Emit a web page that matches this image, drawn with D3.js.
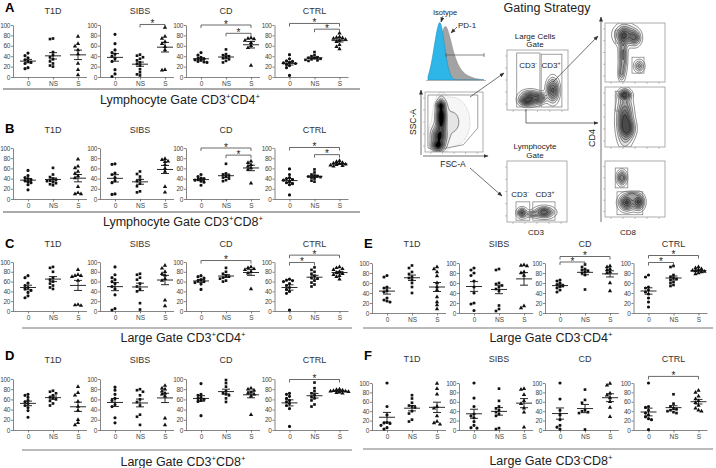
<!DOCTYPE html>
<html>
<head>
<meta charset="utf-8">
<script src="https://cdn.jsdelivr.net/npm/d3@7"></script>
<style>
body { margin: 0; background: #fff; }
svg { font-family: "Liberation Sans", Arial, sans-serif; }
</style>
</head>
<body>
<script>
// groups, stimulation conditions and tick labels
var groups = ["T1D", "SIBS", "CD", "CTRL"];
var stim = ["0", "NS", "S"];
var yTicks = [0, 20, 40, 60, 80, 100];

// % PD-1+ per group, per condition (0, NS, S)
var valuesA = [
    [[46, 41, 37, 33, 30, 28, 26, 18, 16], [74, 73, 48, 42, 38, 34, 30, 26, 22, 20], [78, 64, 59, 52, 44, 26, 14, 4]],
    [[82, 64, 52, 47, 44, 40, 35, 30, 14, 6, 1], [43, 41, 38, 35, 32, 28, 25, 22, 15, 9, 5, 3], [95, 78, 74, 68, 64, 58, 52, 14, 13]],
    [[47, 42, 38, 36, 35, 33, 32, 30, 29, 28], [53, 44, 42, 40, 38, 36, 34, 31, 28], [75, 74, 73, 70, 66, 60, 56, 22]],
    [[43, 35, 31, 30, 28, 27, 26, 24, 22, 18, 3], [48, 42, 40, 38, 37, 36, 35, 34, 33, 32, 31], [84, 77, 76, 75, 74, 72, 70, 68, 62, 58, 54]]
];
var valuesB = [
    [[56, 46, 42, 40, 38, 36, 34, 32, 28, 18], [61, 48, 43, 40, 38, 36, 35, 33, 31, 29, 27], [78, 64, 61, 54, 50, 45, 41, 24, 12, 10, 10]],
    [[69, 68, 51, 48, 42, 36, 32, 10, 9], [54, 49, 44, 38, 35, 30, 25, 15, 13], [79, 77, 74, 73, 67, 60, 54, 24, 13]],
    [[48, 44, 41, 40, 38, 37, 35, 33, 27], [69, 50, 48, 46, 44, 42, 40, 37, 35], [74, 71, 67, 64, 61, 58, 31]],
    [[59, 48, 42, 40, 38, 37, 35, 32, 30, 28, 8], [58, 52, 48, 46, 45, 44, 43, 42, 40, 36, 34], [75, 73, 71, 70, 69, 68, 67, 66, 65, 64]]
];
var valuesC = [
    [[72, 68, 57, 52, 48, 45, 42, 38, 31, 27], [90, 88, 80, 68, 64, 60, 56, 52, 48, 45], [84, 74, 72, 72, 70, 62, 13, 12, 11]],
    [[90, 74, 68, 64, 60, 56, 50, 45, 33, 5, 2], [76, 74, 68, 64, 56, 50, 44, 40, 16, 3], [93, 87, 80, 76, 73, 66, 62, 22, 10]],
    [[72, 70, 67, 64, 62, 60, 58, 55, 44], [88, 80, 76, 72, 70, 68, 66, 62, 60], [90, 88, 86, 84, 80, 77, 45]],
    [[65, 63, 62, 60, 56, 52, 48, 44, 40, 36, 2], [89, 84, 80, 76, 72, 68, 66, 62, 58, 54, 50], [90, 88, 86, 84, 80, 78, 76, 74, 72, 70, 65]]
];
var valuesD = [
    [[70, 68, 64, 58, 55, 52, 48, 44, 38, 25], [77, 75, 72, 68, 64, 62, 60, 57, 52, 48], [85, 73, 68, 56, 46, 38, 20, 14, 10]],
    [[84, 78, 70, 62, 58, 50, 46, 24, 14], [80, 78, 75, 68, 60, 55, 48, 30, 26, 10], [87, 82, 80, 76, 72, 70, 66, 23, 10]],
    [[91, 70, 68, 64, 62, 60, 58, 56, 28], [98, 92, 85, 76, 72, 70, 68, 62, 55], [82, 80, 78, 74, 72, 70, 66, 30]],
    [[72, 70, 66, 62, 58, 55, 52, 48, 42, 7], [93, 82, 76, 72, 68, 65, 62, 58, 50, 46], [80, 79, 78, 77, 76, 76, 75, 74, 73, 72]]
];
var valuesE = [
    [[75, 72, 52, 50, 45, 42, 30, 26, 24, 22], [95, 90, 82, 78, 72, 70, 66, 60, 52, 40], [92, 88, 82, 74, 60, 52, 46, 32, 22, 16, 8]],
    [[90, 86, 80, 75, 64, 52, 40, 20, 18, 5], [88, 86, 60, 58, 55, 52, 48, 44, 15, 8, 4], [96, 95, 94, 82, 80, 75, 14, 10]],
    [[66, 64, 60, 57, 55, 53, 50, 46, 42], [97, 92, 88, 86, 84, 82, 80, 76, 47], [94, 92, 88, 86, 82, 80, 60, 44]],
    [[76, 72, 52, 50, 46, 42, 38, 30, 22, 12], [94, 92, 76, 72, 70, 68, 66, 62, 60, 56, 54], [92, 90, 88, 86, 85, 84, 83, 82, 80, 78]]
];
var valuesF = [
    [[100, 50, 32, 16, 15, 14, 10, 5, 2], [74, 67, 58, 52, 50, 48, 40, 35, 22, 18], [99, 88, 76, 50, 46, 30, 18, 15, 12]],
    [[100, 68, 50, 34, 30, 26, 18, 10, 5, 4], [88, 62, 50, 46, 42, 38, 34, 30, 4, 2], [88, 86, 75, 62, 56, 46, 38, 6]],
    [[100, 66, 42, 32, 22, 10, 6, 2], [86, 64, 58, 42, 40, 38, 36, 1], [99, 95, 78, 74, 68, 60, 48, 28]],
    [[100, 50, 48, 42, 36, 32, 28, 24, 22, 1], [76, 56, 50, 46, 44, 42, 40, 38, 36], [84, 80, 72, 66, 62, 58, 52, 46, 42, 40]]
];

// significance brackets: [group index, from, to, bracket level]
var sigA = [[1, "NS", "S", 101], [2, "0", "S", 100], [2, "NS", "S", 84], [3, "0", "S", 103], [3, "NS", "S", 92]];
var sigB = [[2, "0", "S", 100], [2, "NS", "S", 86], [3, "0", "S", 101], [3, "NS", "S", 87]];
var sigC = [[2, "0", "S", 103], [3, "0", "S", 114], [3, "0", "NS", 99]];
var sigD = [[3, "0", "S", 99]];
var sigE = [[2, "0", "S", 113], [2, "0", "NS", 102], [3, "0", "S", 115], [3, "0", "NS", 101]];
var sigF = [[3, "0", "S", 114]];

// row captions: [text, superscript?]
var labelA = [["Lymphocyte Gate CD3", 0], ["+", 1], ["CD4", 0], ["+", 1]];
var labelB = [["Lymphocyte Gate CD3", 0], ["+", 1], ["CD8", 0], ["+", 1]];
var labelC = [["Large Gate CD3", 0], ["+", 1], ["CD4", 0], ["+", 1]];
var labelD = [["Large Gate CD3", 0], ["+", 1], ["CD8", 0], ["+", 1]];
var labelE = [["Large Gate CD3", 0], ["-", 1], ["CD4", 0], ["+", 1]];
var labelF = [["Large Gate CD3", 0], ["-", 1], ["CD8", 0], ["+", 1]];

// histogram bins (Isotype vs PD-1), relative heights
var isoHist = [0.06, 0.2, 0.42, 0.68, 0.9, 1.0, 0.82, 0.52, 0.26, 0.1, 0.03, 0, 0, 0, 0, 0, 0, 0, 0, 0, 0, 0, 0, 0];
var pd1Hist = [0, 0, 0.04, 0.14, 0.34, 0.6, 0.82, 0.92, 0.86, 0.72, 0.54, 0.4, 0.29, 0.21, 0.15, 0.11, 0.08, 0.06, 0.045, 0.03, 0.02, 0.012, 0.006, 0];

var svg = d3.select("body")
    .append("svg")
    .attr("width", 716)
    .attr("height", 468);

var defs = svg.append("defs");
defs.append("marker")
    .attr("id", "arr")
    .attr("viewBox", "0 0 10 10")
    .attr("refX", 9).attr("refY", 5)
    .attr("markerUnits", "userSpaceOnUse")
    .attr("markerWidth", 5).attr("markerHeight", 5)
    .attr("orient", "auto")
    .append("path")
    .attr("d", "M0,1L10,5L0,9Z")
    .attr("fill", "#333");

var rows = [
    { letter: "A", vals: valuesA, sig: sigA, label: labelA, x0: 13, y100: 25, y0: 77, ly: 12, ty: 14, line: [3, 360, 89, "#aaa", 2], lx: 180, lby: 104 },
    { letter: "B", vals: valuesB, sig: sigB, label: labelB, x0: 13, y100: 148, y0: 199, ly: 133, ty: 133, line: [3, 360, 212, "#aaa", 2], lx: 183, lby: 226 },
    { letter: "C", vals: valuesC, sig: sigC, label: labelC, x0: 13, y100: 262, y0: 311, ly: 248, ty: 247, line: [22, 352, 328, "#777", 1], lx: 183, lby: 342 },
    { letter: "D", vals: valuesD, sig: sigD, label: labelD, x0: 13, y100: 379, y0: 430, ly: 360, ty: 363, line: [22, 352, 450, "#777", 1], lx: 183, lby: 466 },
    { letter: "E", vals: valuesE, sig: sigE, label: labelE, x0: 372, y100: 263, y0: 313, ly: 248, ty: 247, line: [363, 713, 328, "#777", 1], lx: 551, lby: 342 },
    { letter: "F", vals: valuesF, sig: sigF, label: labelF, x0: 372, y100: 383, y0: 430, ly: 360, ty: 362, line: [363, 713, 449, "#777", 1], lx: 551, lby: 465 }
];
var offsets = [0, 87, 173, 261.5];
var symbols = [d3.symbolCircle, d3.symbolSquare, d3.symbolTriangle];

function styleAxis(sel) {
    sel.attr("font-family", null);
    sel.selectAll("text").attr("font-size", 6.5).attr("fill", "#444");
    sel.selectAll("line").attr("stroke", "#666").attr("stroke-width", 0.8);
    sel.select(".domain").attr("stroke", "#666").attr("stroke-width", 0.8);
}

function richText(g, parts, x, y, size) {
    var t = g.append("text")
        .attr("x", x).attr("y", y)
        .attr("text-anchor", "middle")
        .attr("font-size", size)
        .attr("fill", "#222");
    var up = false;
    parts.forEach(function(p) {
        var dy = 0;
        if (p[1] && !up) { dy = -size * 0.38; up = true; }
        else if (!p[1] && up) { dy = size * 0.38; up = false; }
        t.append("tspan")
            .attr("dy", dy)
            .attr("font-size", p[1] ? size * 0.62 : size)
            .text(p[0]);
    });
}

rows.forEach(function(row) {
    var g = svg.append("g").attr("class", "row " + row.letter);

    g.append("text")
        .attr("x", row.x0 - 8).attr("y", row.ly)
        .attr("font-size", 13).attr("font-weight", "bold")
        .text(row.letter);

    groups.forEach(function(name, gi) {
        var x0 = row.x0 + offsets[gi];
        var x = d3.scalePoint().domain(stim).range([x0 + 15, x0 + 65]);
        var y = d3.scaleLinear().domain([0, 100]).range([row.y0, row.y100]);

        var ya = g.append("g")
            .attr("transform", "translate(" + x0 + ",0)")
            .call(d3.axisLeft(y).tickValues(yTicks).tickSize(2).tickSizeOuter(0).tickPadding(1));
        styleAxis(ya);
        ya.selectAll("text").attr("letter-spacing", -0.35);

        var xa = g.append("g")
            .attr("transform", "translate(0," + row.y0 + ")")
            .call(d3.axisBottom(x).tickSize(2.5).tickSizeOuter(0).tickPadding(2));
        xa.select(".domain").attr("d", "M" + x0 + ",0.5H" + (x0 + 74));
        styleAxis(xa);

        g.append("text")
            .attr("x", x0 + 40).attr("y", row.ty)
            .attr("text-anchor", "middle")
            .attr("font-size", 9).attr("fill", "#333")
            .text(name);

        stim.forEach(function(s, si) {
            var v = row.vals[gi][si];
            var cx = x(s);
            var placed = [];
            var shifts = [0, -3, 3, -6, 6, -9, 9];
            v.slice().sort(function(a, b) { return b - a; }).forEach(function(d) {
                var py = y(d);
                var ox = shifts.find(function(o) {
                    return placed.every(function(p) { return Math.hypot(p[0] - (cx + o), p[1] - py) >= 3; });
                });
                if (ox === undefined) ox = 0;
                placed.push([cx + ox, py]);
            });
            g.selectAll(null)
                .data(placed)
                .enter()
                .append("path")
                .attr("transform", function(p) { return "translate(" + p[0] + "," + p[1] + ")"; })
                .attr("d", d3.symbol().type(symbols[si]).size(si == 1 ? 7 : 8))
                .attr("fill", "#111");

            // mean +/- SEM
            var m = d3.mean(v), se = d3.deviation(v) / Math.sqrt(v.length);
            var ms = "M" + (cx - 8) + "," + y(m) + "H" + (cx + 8) +
                "M" + (cx - 4) + "," + y(m + se) + "H" + (cx + 4) +
                "M" + (cx - 4) + "," + y(m - se) + "H" + (cx + 4) +
                "M" + cx + "," + y(m + se) + "V" + y(m - se);
            g.append("path").attr("d", ms).attr("stroke", "#111").attr("stroke-width", 0.9).attr("fill", "none");
        });

        row.sig.filter(function(s) { return s[0] === gi; }).forEach(function(s) {
            var yy = y(s[3]);
            g.append("path")
                .attr("d", "M" + x(s[1]) + "," + (yy + 3) + "V" + yy + "H" + x(s[2]) + "V" + (yy + 3))
                .attr("stroke", "#444").attr("stroke-width", 0.8).attr("fill", "none");
            g.append("text")
                .attr("x", (x(s[1]) + x(s[2])) / 2).attr("y", yy + 2.5)
                .attr("text-anchor", "middle")
                .attr("font-size", 10).attr("fill", "#222")
                .text("*");
        });
    });

    g.append("line")
        .attr("x1", row.line[0]).attr("x2", row.line[1])
        .attr("y1", row.line[2]).attr("y2", row.line[2])
        .attr("stroke", row.line[3]).attr("stroke-width", row.line[4]);

    richText(g, row.label, row.lx, row.lby, 12.5);
});

// ---------- Gating strategy ----------
var gate = svg.append("g").attr("class", "gating");

gate.append("text")
    .attr("x", 547).attr("y", 12)
    .attr("text-anchor", "middle")
    .attr("font-size", 12.5).attr("fill", "#222")
    .text("Gating Strategy");

// histogram
var hx = d3.scaleLinear().domain([0, isoHist.length - 1]).range([428, 484]);
var hy = d3.scaleLinear().domain([0, 1]).range([80, 20]);
var harea = d3.area()
    .x(function(d, i) { return hx(i); })
    .y0(80)
    .y1(function(d) { return hy(d); })
    .curve(d3.curveBasis);
gate.append("path").attr("d", harea(pd1Hist)).attr("fill", "#a3a3a3").attr("stroke", "#888").attr("stroke-width", 0.5);
gate.append("path").attr("d", harea(isoHist)).attr("fill", "#2fb6e8").attr("stroke", "#1b86b8").attr("stroke-width", 0.5);
gate.append("line").attr("x1", 426).attr("x2", 486).attr("y1", 80.5).attr("y2", 80.5).attr("stroke", "#aaa").attr("stroke-width", 0.8);
gate.append("path").attr("d", "M446,53V57M446,55H484M484,53V57").attr("stroke", "#555").attr("stroke-width", 0.7).attr("fill", "none");
gate.append("text").attr("x", 445).attr("y", 15).attr("text-anchor", "middle").attr("font-size", 7.5).attr("fill", "#222").text("Isotype");
gate.append("text").attr("x", 458).attr("y", 28).attr("font-size", 8).attr("fill", "#222").text("PD-1");
gate.append("line").attr("x1", 443).attr("y1", 16).attr("x2", 441).attr("y2", 22).attr("stroke", "#333").attr("stroke-width", 0.7).attr("marker-end", "url(#arr)");
gate.append("line").attr("x1", 457).attr("y1", 27).attr("x2", 451).attr("y2", 33).attr("stroke", "#333").attr("stroke-width", 0.7).attr("marker-end", "url(#arr)");

var clipId = 0;
function flowPlot(box, blobs, levels, gates, dotted) {
    var n = 64;
    var vals = new Array(n * n);
    for (var j = 0; j < n; j++) {
        for (var i = 0; i < n; i++) {
            var ux = (i + 0.5) / n, uy = 1 - (j + 0.5) / n, v = 0;
            blobs.forEach(function(b) {
                v += b[4] * Math.exp(-((ux - b[0]) * (ux - b[0]) / (2 * b[2] * b[2]) + (uy - b[1]) * (uy - b[1]) / (2 * b[3] * b[3])));
            });
            vals[j * n + i] = v;
        }
    }
    var proj = d3.geoTransform({
        point: function(px, py) { this.stream.point(box.x + px * box.w / n, box.y + py * box.h / n); }
    });
    var path = d3.geoPath(proj);
    var shade = dotted
        ? d3.scaleLinear().domain([0, levels.length - 2, levels.length - 1]).range(["#fdfdfd", "#555", "#000"])
        : d3.scaleLinear().domain([0, levels.length - 1]).range(["#fdfdfd", "#4a4a4a"]);
    var sx = d3.scaleLinear().domain([0, 1]).range([box.x, box.x + box.w]);
    var sy = d3.scaleLinear().domain([0, 1]).range([box.y + box.h, box.y]);

    var id = "clip" + (clipId++);
    defs.append("clipPath").attr("id", id).append("rect")
        .attr("x", box.x).attr("y", box.y).attr("width", box.w).attr("height", box.h);

    var g = gate.append("g");
    var inner = g.append("g").attr("clip-path", "url(#" + id + ")");
    inner.selectAll("path")
        .data(d3.contours().size([n, n]).thresholds(levels)(vals))
        .enter()
        .append("path")
        .attr("d", path)
        .attr("fill", function(d, i) { return dotted && i == 0 ? "#f6f6f6" : shade(i); })
        .attr("stroke", function(d, i) { return dotted && i == 0 ? "#888" : "#000"; })
        .attr("stroke-dasharray", function(d, i) { return dotted && i == 0 ? "0.8 1" : null; })
        .attr("stroke-width", 0.45);

    g.append("rect")
        .attr("x", box.x).attr("y", box.y).attr("width", box.w).attr("height", box.h)
        .attr("fill", "none").attr("stroke", "#999").attr("stroke-width", 0.8);

    var tks = [0.1, 0.3, 0.5, 0.7, 0.9];
    g.selectAll(null).data(tks).enter().append("line")
        .attr("x1", box.x).attr("x2", box.x - 2)
        .attr("y1", function(d) { return sy(d); }).attr("y2", function(d) { return sy(d); })
        .attr("stroke", "#999").attr("stroke-width", 0.6);
    g.selectAll(null).data(tks).enter().append("line")
        .attr("y1", box.y + box.h).attr("y2", box.y + box.h + 2)
        .attr("x1", function(d) { return sx(d); }).attr("x2", function(d) { return sx(d); })
        .attr("stroke", "#999").attr("stroke-width", 0.6);

    gates.forEach(function(r) {
        g.append("rect")
            .attr("x", sx(r[0])).attr("y", sy(r[3]))
            .attr("width", sx(r[2]) - sx(r[0])).attr("height", sy(r[1]) - sy(r[3]))
            .attr("fill", "none").attr("stroke", "#777").attr("stroke-width", 0.7);
    });
    return { sx: sx, sy: sy, g: g };
}

// SSC-A / FSC-A
var ssc = flowPlot({ x: 425, y: 92, w: 58, h: 60 },
    [[0.28, 0.58, 0.045, 0.15, 1.2], [0.27, 0.78, 0.04, 0.04, 0.6], [0.24, 0.25, 0.07, 0.1, 0.9], [0.22, 0.1, 0.06, 0.05, 0.8], [0.45, 0.5, 0.22, 0.28, 0.12]],
    [0.04, 0.1, 0.2, 0.32, 0.45, 0.6, 0.72, 0.85, 0.95], [], true);
var sscGate = [[0.05, 0.95], [0.91, 0.95], [0.91, 0.4], [0.66, 0.12], [0.17, 0.03], [0.05, 0.07]];
ssc.g.append("path")
    .attr("d", d3.line().x(function(d) { return ssc.sx(d[0]); }).y(function(d) { return ssc.sy(d[1]); })(sscGate) + "Z")
    .attr("fill", "none").attr("stroke", "#777").attr("stroke-width", 0.7);

// Large cells gate CD3
var large = flowPlot({ x: 507, y: 50, w: 61, h: 60 },
    [[0.38, 0.2, 0.1, 0.07, 1.0], [0.75, 0.33, 0.06, 0.12, 0.9], [0.55, 0.2, 0.06, 0.05, 0.6], [0.3, 0.14, 0.06, 0.04, 0.5]],
    [0.08, 0.18, 0.3, 0.42, 0.55, 0.7, 0.85, 1.0], [[0.16, 0.05, 0.54, 0.95], [0.56, 0.05, 0.9, 0.93]], false);

// Lymphocyte gate CD3
var lymph = flowPlot({ x: 507, y: 161, w: 60, h: 61 },
    [[0.25, 0.15, 0.05, 0.05, 0.9], [0.62, 0.16, 0.1, 0.055, 1.0], [0.42, 0.13, 0.06, 0.03, 0.55]],
    [0.1, 0.25, 0.4, 0.55, 0.7, 0.85, 1.0], [[0.15, 0.03, 0.38, 0.33], [0.43, 0.03, 0.8, 0.33]], false);

// CD4 / CD8 plots
flowPlot({ x: 605, y: 23, w: 60, h: 59 },
    [[0.3, 0.45, 0.04, 0.2, 0.7], [0.33, 0.8, 0.1, 0.1, 0.9], [0.5, 0.75, 0.06, 0.08, 0.7], [0.57, 0.27, 0.05, 0.06, 0.55], [0.27, 0.15, 0.03, 0.08, 0.4]],
    [0.08, 0.2, 0.35, 0.5, 0.65, 0.8, 0.95], [[0.17, 0.66, 0.37, 0.88], [0.45, 0.15, 0.65, 0.42]], false);
flowPlot({ x: 605, y: 87, w: 60, h: 60 },
    [[0.33, 0.45, 0.08, 0.25, 1.0], [0.33, 0.87, 0.06, 0.05, 0.9], [0.4, 0.3, 0.07, 0.1, 0.5]],
    [0.1, 0.22, 0.36, 0.5, 0.65, 0.8, 0.95], [[0.17, 0.6, 0.37, 0.93]], false);
flowPlot({ x: 605, y: 161, w: 60, h: 56 },
    [[0.28, 0.7, 0.05, 0.08, 0.8], [0.36, 0.26, 0.08, 0.09, 1.0], [0.56, 0.27, 0.06, 0.09, 0.95], [0.45, 0.4, 0.05, 0.03, 0.4]],
    [0.1, 0.22, 0.36, 0.5, 0.65, 0.8, 0.95], [[0.17, 0.52, 0.38, 0.875], [0.2, 0.04, 0.63, 0.45]], false);

function smallLabel(x, y, base, sup) {
    richText(gate, [[base, 0], [sup, 1]], x, y, 8);
}
smallLabel(528, 68, "CD3", "-");
smallLabel(551, 68, "CD3", "+");
smallLabel(520, 197, "CD3", "-");
smallLabel(545, 197, "CD3", "+");

[["Large Cells", 39], ["Gate", 47], ["Lymphocyte", 149], ["Gate", 158]].forEach(function(t) {
    gate.append("text").attr("x", 535).attr("y", t[1]).attr("text-anchor", "middle")
        .attr("font-size", 8).attr("fill", "#222").text(t[0]);
});

gate.append("text").attr("x", 413).attr("y", 122).attr("text-anchor", "middle")
    .attr("transform", "rotate(-90,413,122)").attr("dy", 3)
    .attr("font-size", 8.5).attr("fill", "#222").text("SSC-A");
gate.append("text").attr("x", 453).attr("y", 167).attr("text-anchor", "middle")
    .attr("font-size", 8.5).attr("fill", "#222").text("FSC-A");
gate.append("text").attr("x", 592).attr("y", 138).attr("text-anchor", "middle")
    .attr("transform", "rotate(-90,592,138)").attr("dy", 3)
    .attr("font-size", 9).attr("fill", "#222").text("CD4");
gate.append("text").attr("x", 536).attr("y", 235).attr("text-anchor", "middle")
    .attr("font-size", 8).attr("fill", "#222").text("CD3");
gate.append("text").attr("x", 628).attr("y", 235).attr("text-anchor", "middle")
    .attr("font-size", 8).attr("fill", "#222").text("CD8");

// arrows
var arrows = [
    "M470,97L504,73",
    "M470,168L502,196",
    "M553,82L598,36",
    "M526,109V123H598",
    "M601,222V17",
    "M421,155V90",
    "M423,156H488"
];
arrows.forEach(function(d) {
    gate.append("path").attr("d", d)
        .attr("fill", "none").attr("stroke", "#333").attr("stroke-width", 0.7)
        .attr("marker-end", "url(#arr)");
});
</script>
</body>
</html>
